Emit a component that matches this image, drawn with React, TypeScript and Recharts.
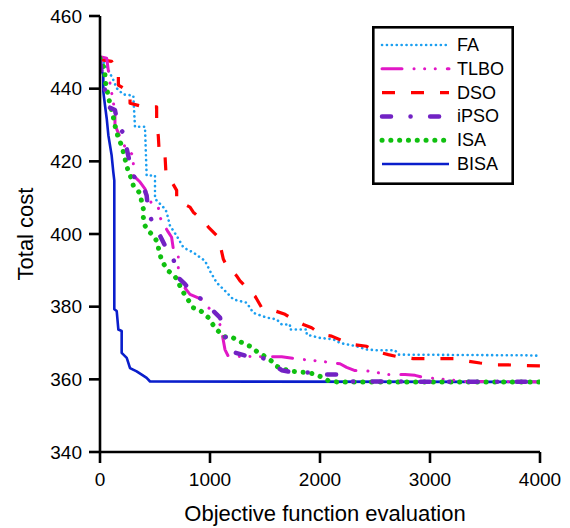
import { Legend, Line, LineChart, XAxis, YAxis } from "recharts"

const FONT = "'Liberation Sans', Arial, sans-serif"

// evaluations / best cost for each algorithm
const FA_EVALS = [0, 40, 76, 121, 152, 212, 303, 318, 409, 424, 500, 500, 591, 606, 636, 697, 758, 848, 955, 1000, 1061, 1152, 1212, 1333, 1394, 1515, 1606, 1652, 1727, 1727, 1879, 1879, 2000, 2121, 2182, 2333, 2424, 2515, 2682, 2712, 3900, 4000]
const FA_COSTS = [448, 447, 445.1, 442.4, 440.1, 438.4, 438.1, 429.5, 429.5, 416.1, 416.1, 409.7, 406.9, 406, 402.3, 399.5, 396.3, 394.9, 392.6, 389.8, 386.6, 383.9, 382, 381.1, 378.3, 377, 376.5, 375.1, 375.1, 373.7, 373.7, 372.3, 371.4, 371, 370, 369.1, 368.2, 368, 368, 366.8, 366.6, 366.5]

const TLBO_EVALS = [0, 61, 91, 136, 136, 182, 227, 303, 303, 364, 409, 470, 530, 545, 576, 621, 651, 667, 712, 712, 758, 818, 924, 939, 985, 1061, 1106, 1136, 1167, 1652, 1800, 2000, 2182, 2242, 2318, 2409, 2500, 2606, 2773, 2864, 2939, 3182, 3300, 4000]
const TLBO_COSTS = [448.8, 448.4, 441.5, 433.6, 430, 426.7, 424, 421.6, 416.1, 414.3, 412.4, 408.3, 407.4, 404.6, 402.8, 400.5, 399.1, 395.8, 394.9, 388, 385.7, 383.4, 382, 381.5, 379.7, 378.3, 373.3, 368.2, 366.3, 366.2, 365.6, 365, 364.3, 363.3, 362.4, 362.4, 362, 361.3, 361.3, 361.1, 360.5, 359.9, 359.4, 359.3]

const DSO_EVALS = [0, 106, 167, 167, 273, 273, 394, 515, 515, 530, 540, 591, 600, 636, 697, 697, 818, 848, 955, 985, 1076, 1091, 1121, 1152, 1242, 1273, 1364, 1409, 1470, 1545, 1682, 1727, 1848, 1924, 2015, 2106, 2212, 2288, 2424, 2500, 2621, 2712, 2848, 3227, 3348, 3455, 3591, 3697, 3848, 4000]
const DSO_COSTS = [448, 447.5, 443.8, 441, 439, 436, 435, 435, 430.4, 427, 421.6, 421.6, 416.6, 415.2, 412, 409.2, 407.4, 406, 403.2, 401.9, 399.1, 397.2, 393.1, 391.2, 388.5, 387.1, 384.3, 382.9, 379.7, 379.3, 377.9, 377, 375.1, 374.2, 372.3, 371.9, 370.5, 369.6, 369.1, 367.7, 366.8, 366.2, 365.7, 365.7, 365, 364.5, 364, 364, 363.8, 363.7]

const IPSO_EVALS = [0, 15, 45, 76, 136, 167, 243, 243, 273, 318, 379, 424, 439, 470, 530, 591, 636, 682, 712, 773, 848, 955, 1000, 1091, 1121, 1152, 1212, 1348, 1455, 1561, 1652, 1758, 1909, 2061, 2152, 2220, 4000]
const IPSO_COSTS = [447.5, 444.7, 439.6, 435, 434.1, 429.5, 426.7, 423.5, 419.3, 415.2, 414.3, 410.6, 406, 403.7, 400.5, 396.8, 395.8, 391.7, 388, 386.2, 383.4, 381.5, 379.7, 377, 372.8, 371, 367.5, 366.3, 366.3, 364.5, 362.5, 361.9, 361.9, 361.3, 361.3, 359.4, 359.3]

const ISA_EVALS = [0, 45, 45, 61, 76, 91, 121, 136, 152, 167, 197, 212, 227, 243, 258, 288, 303, 333, 364, 379, 394, 394, 409, 439, 485, 515, 530, 545, 561, 591, 621, 667, 697, 727, 758, 788, 818, 848, 894, 939, 985, 1015, 1045, 1091, 1152, 1212, 1258, 1303, 1364, 1424, 1500, 1561, 1606, 1652, 1758, 1833, 1909, 1970, 2030, 2076, 2150, 4000]
const ISA_COSTS = [448.4, 445.1, 442.4, 440.1, 437.8, 435.9, 432.2, 429.9, 428.1, 426.3, 424.4, 422.6, 420.7, 418.9, 417, 415.2, 413.3, 412.4, 411.1, 408.8, 406.9, 404.6, 402.3, 400.9, 399.5, 398.1, 396.3, 394.5, 392.6, 391.2, 389.8, 388.9, 387.6, 385.7, 383.9, 382.5, 381.1, 379.7, 379.3, 378.3, 377, 375.6, 374.2, 372.8, 371.4, 371.4, 370.5, 370, 369.1, 367.7, 366.3, 365, 363.6, 362.9, 362.2, 362, 361.8, 361.1, 360.5, 359.6, 359.3, 359.3]

const BISA_EVALS = [0, 15, 30, 30, 45, 61, 76, 106, 121, 130, 130, 152, 167, 197, 197, 243, 273, 333, 379, 424, 455, 4000]
const BISA_COSTS = [448, 445, 443.8, 439.2, 435.5, 431.8, 427.2, 421.6, 417, 414.7, 379.3, 378.8, 373.7, 373.3, 367.3, 365.9, 363.1, 362.2, 361.3, 360.4, 359.4, 359.3]

const X_TICKS = [0, 1000, 2000, 3000, 4000]
const Y_TICKS = [340, 360, 380, 400, 420, 440, 460]

const toPoints = (evals: number[], costs: number[]) =>
  evals.map((e, i) => ({ evals: e, cost: costs[i] }))

// legend order
const SERIES = [
  { name: "FA", data: toPoints(FA_EVALS, FA_COSTS), color: "#1b9ff0", width: 2.6, dash: "0.1 4.8", cap: "round" },
  { name: "TLBO", data: toPoints(TLBO_EVALS, TLBO_COSTS), color: "#e117c6", width: 3, dash: "20 12 0.1 10.5 0.1 10.5 0.1 12", cap: "round" },
  { name: "DSO", data: toPoints(DSO_EVALS, DSO_COSTS), color: "#ff0000", width: 3.2, dash: "13 16", cap: "butt" },
  { name: "iPSO", data: toPoints(IPSO_EVALS, IPSO_COSTS), color: "#7222c4", width: 4.5, dash: "9 19.5 0.1 19.5", cap: "round" },
  { name: "ISA", data: toPoints(ISA_EVALS, ISA_COSTS), color: "#10c010", width: 5, dash: "0.1 8.7", cap: "round" },
  { name: "BISA", data: toPoints(BISA_EVALS, BISA_COSTS), color: "#0a1ecb", width: 2.6, dash: undefined, cap: "butt" },
]

// drawing order (bottom first)
const DRAW_ORDER = ["BISA", "FA", "DSO", "TLBO", "ISA", "iPSO"]

function XTitle(props: any) {
  const vb = props.viewBox
  return (
    <text x={vb.x + vb.width / 2 + 5} y={521} textAnchor="middle" fontSize={22} fontFamily={FONT} fill="#000">
      Objective function evaluation
    </text>
  )
}

function YTitle(props: any) {
  const vb = props.viewBox
  const cx = 25
  const cy = vb.y + vb.height / 2
  return (
    <text
      x={cx}
      y={cy}
      transform={`rotate(-90 ${cx} ${cy})`}
      textAnchor="middle"
      dominantBaseline="central"
      fontSize={22}
      fontFamily={FONT}
      fill="#000"
    >
      Total cost
    </text>
  )
}

function LegendBox() {
  return (
    <svg width={142} height={159} style={{ display: "block" }}>
      <rect x={1.3} y={1.3} width={139.4} height={156.4} fill="#fff" stroke="#000" strokeWidth={2.6} />
      {SERIES.map((s, i) => {
        const y = 19 + i * 23.8
        return (
          <g key={s.name}>
            <line
              x1={10}
              x2={77}
              y1={y}
              y2={y}
              stroke={s.color}
              strokeWidth={s.width}
              strokeDasharray={s.dash}
              strokeLinecap={s.cap as any}
            />
            <text x={85} y={y} dominantBaseline="central" fontSize={18} fontFamily={FONT} fill="#000">
              {s.name}
            </text>
          </g>
        )
      })}
    </svg>
  )
}

export default function App() {
  const ordered = DRAW_ORDER.map((n) => SERIES.find((s) => s.name === n)!)
  return (
    <div style={{ position: "fixed", left: 0, top: 0, width: 570, height: 528, background: "#fff" }}>
      <LineChart width={570} height={528} margin={{ top: 16, right: 30, bottom: 0, left: 0 }}>
        <XAxis
          dataKey="evals"
          type="number"
          domain={[0, 4000]}
          ticks={X_TICKS}
          height={76}
          tickSize={11}
          tickMargin={10}
          axisLine={{ stroke: "#000", strokeWidth: 2.6 }}
          tickLine={{ stroke: "#000", strokeWidth: 2.6 }}
          tick={{ fontSize: 19, fontFamily: FONT, fill: "#000" }}
          label={<XTitle />}
          allowDataOverflow
        />
        <YAxis
          type="number"
          domain={[340, 460]}
          ticks={Y_TICKS}
          width={100}
          tickSize={11}
          tickMargin={7}
          axisLine={{ stroke: "#000", strokeWidth: 2.6 }}
          tickLine={{ stroke: "#000", strokeWidth: 2.6 }}
          tick={{ fontSize: 19, fontFamily: FONT, fill: "#000" }}
          label={<YTitle />}
          allowDataOverflow
        />
        {ordered.map((s) => (
          <Line
            key={s.name}
            data={s.data}
            dataKey="cost"
            name={s.name}
            type="linear"
            stroke={s.color}
            strokeWidth={s.width}
            strokeDasharray={s.dash}
            strokeLinecap={s.cap as any}
            strokeLinejoin="round"
            dot={false}
            activeDot={false}
            isAnimationActive={false}
          />
        ))}
        <Legend
          layout="horizontal"
          verticalAlign="middle"
          align="center"
          content={() => <LegendBox />}
          wrapperStyle={{ position: "absolute", left: 372, top: 26, width: 142, height: 159 }}
        />
      </LineChart>
    </div>
  )
}
